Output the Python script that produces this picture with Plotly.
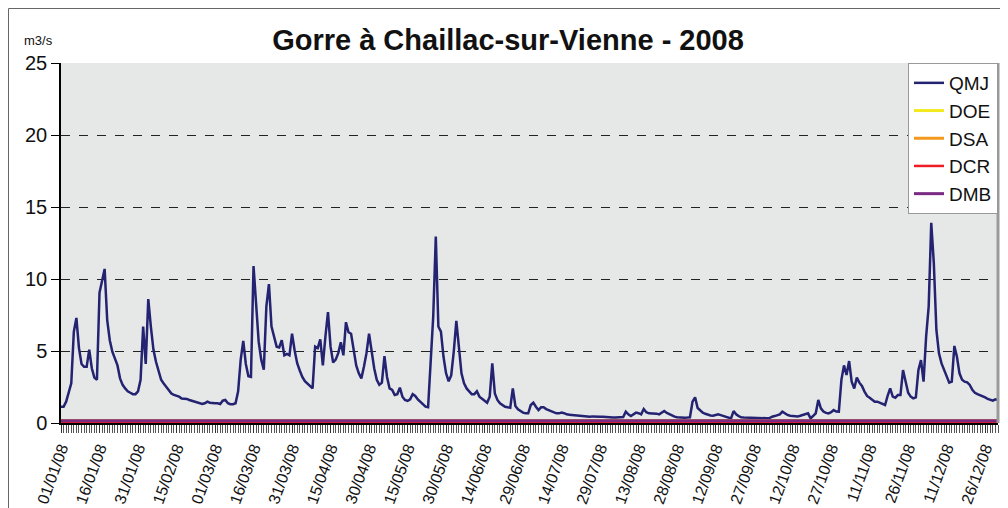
import pandas as pd
import plotly.graph_objects as go

title = "Gorre à Chaillac-sur-Vienne - 2008"
unit = "m3/s"

# Débit moyen journalier (m3/s), 01/01/2008 -> 31/12/2008
qmj = [
    1.13, 1.13, 1.48, 2.06, 2.75, 6.34, 7.3, 5.2, 4.1, 3.9,
    3.9, 5.1, 3.8, 3.15, 3.0, 9.05, 9.8, 10.7, 7.15, 5.75,
    4.95, 4.5, 4.0, 3.1, 2.65, 2.4, 2.2, 2.1, 2.0, 2.0,
    2.2, 3.0, 6.7, 4.1, 8.6, 6.7, 5.1, 4.25, 3.7, 3.0,
    2.75, 2.5, 2.3, 2.05, 1.95, 1.88, 1.83, 1.7, 1.7, 1.67,
    1.6, 1.55, 1.48, 1.41, 1.37, 1.32, 1.37, 1.48, 1.41, 1.37,
    1.37, 1.37, 1.32, 1.55, 1.6, 1.37, 1.3, 1.3, 1.37, 2.2,
    4.4, 5.7, 4.1, 3.25, 3.2, 10.9, 8.5, 5.65, 4.4, 3.7,
    8.1, 9.65, 6.7, 5.9, 5.3, 5.25, 5.75, 4.7, 4.8, 4.7,
    6.2, 5.05, 4.15, 3.65, 3.2, 2.9, 2.75, 2.55, 2.4, 5.3,
    5.2, 5.8, 4.0, 6.0, 7.7, 5.3, 4.2, 4.4, 4.85, 5.6,
    4.7, 7.0, 6.3, 6.2, 5.05, 4.0, 3.45, 3.1, 3.9, 4.85,
    6.2, 5.05, 3.8, 3.0, 2.65, 2.8, 4.65, 3.2, 2.4, 2.3,
    1.95, 2.0, 2.45, 1.83, 1.6, 1.53, 1.64, 2.0, 1.88, 1.64,
    1.46, 1.27, 1.13, 1.09, 3.9, 7.4, 12.95, 6.7, 6.35, 4.6,
    3.45, 2.9, 3.3, 4.95, 7.1, 5.05, 3.45, 2.75, 2.4, 2.2,
    2.0, 2.0, 2.2, 1.83, 1.7, 1.6, 1.41, 1.83, 4.15, 2.05,
    1.6, 1.37, 1.25, 1.13, 1.09, 1.06, 2.4, 1.18, 0.95, 0.83,
    0.72, 0.67, 0.67, 1.25, 1.41, 1.13, 0.9, 1.09, 1.09, 0.97,
    0.9, 0.79, 0.72, 0.67, 0.67, 0.72, 0.68, 0.6, 0.58, 0.56,
    0.56, 0.53, 0.52, 0.51, 0.48, 0.44, 0.44, 0.46, 0.44, 0.42,
    0.44, 0.44, 0.42, 0.39, 0.4, 0.39, 0.39, 0.4, 0.39, 0.42,
    0.79, 0.6, 0.49, 0.6, 0.72, 0.68, 0.6, 0.97, 0.75, 0.67,
    0.68, 0.67, 0.65, 0.6, 0.7, 0.83, 0.7, 0.6, 0.52, 0.44,
    0.4, 0.38, 0.37, 0.37, 0.38, 0.4, 1.48, 1.78, 1.04, 0.85,
    0.72, 0.64, 0.56, 0.52, 0.5, 0.56, 0.6, 0.55, 0.5, 0.45,
    0.38, 0.32, 0.83, 0.6, 0.48, 0.39, 0.38, 0.37, 0.36, 0.35,
    0.34, 0.33, 0.32, 0.32, 0.33, 0.33, 0.34, 0.44, 0.48, 0.52,
    0.6, 0.79, 0.65, 0.56, 0.5, 0.47, 0.44, 0.46, 0.5, 0.56,
    0.6, 0.67, 0.32, 0.5, 0.67, 1.6, 1.02, 0.8, 0.7, 0.67,
    0.75, 0.9, 0.8, 0.79, 3.0, 4.0, 3.33, 4.3, 2.87, 2.4,
    3.15, 2.8, 2.57, 2.18, 1.88, 1.76, 1.6, 1.48, 1.48, 1.41,
    1.37, 1.25, 1.88, 2.4, 1.83, 1.76, 1.94, 1.94, 3.68, 2.87,
    2.1, 1.83, 1.71, 1.78, 3.68, 4.37, 2.87, 6.0, 8.1, 13.9,
    11.1, 6.46, 4.84, 4.14, 3.68, 3.22, 2.8, 2.87, 5.35, 4.6,
    3.45, 3.0, 2.87, 2.82, 2.64, 2.3, 2.1, 2.0, 1.94, 1.83,
    1.78, 1.67, 1.6, 1.55, 1.64, 1.6,
]

# Seuils (m3/s)
doe = 0.15
dsa = 0.15
dcr = 0.05
dmb = 0.15

tick_labels = [
    "01/01/08", "16/01/08", "31/01/08", "15/02/08", "01/03/08", "16/03/08",
    "31/03/08", "15/04/08", "30/04/08", "15/05/08", "30/05/08", "14/06/08",
    "29/06/08", "14/07/08", "29/07/08", "13/08/08", "28/08/08", "12/09/08",
    "27/09/08", "12/10/08", "27/10/08", "11/11/08", "26/11/08", "11/12/08",
    "26/12/08",
]

dates = pd.date_range("2008-01-01", periods=len(qmj), freq="D")
tick_dates = pd.to_datetime(tick_labels, format="%d/%m/%y")

FONT = "Liberation Sans, Arial, sans-serif"

# page body has an 8px margin: figure is 1000x500 placed at (8, 8)
W, H = 1000, 500
L, R, T, B = 53, 10, 55, 85
PW, PH = W - L - R, H - T - B

fig = go.Figure()
fig.add_trace(go.Scatter(x=dates, y=qmj, mode="lines", name="QMJ",
                         line=dict(color="#232372", width=2.5)))
fig.add_trace(go.Scatter(x=dates, y=[doe] * len(dates), mode="lines", name="DOE",
                         line=dict(color="#F2EA1E", width=3)))
fig.add_trace(go.Scatter(x=dates, y=[dsa] * len(dates), mode="lines", name="DSA",
                         line=dict(color="#F39A1E", width=3)))
fig.add_trace(go.Scatter(x=dates, y=[dcr] * len(dates), mode="lines", name="DCR",
                         line=dict(color="#EE1C24", width=2.5)))
fig.add_trace(go.Scatter(x=dates, y=[dmb] * len(dates), mode="lines", name="DMB",
                         line=dict(color="#7A2A82", width=3)))

fig.update_layout(
    width=W, height=H, autosize=False,
    margin=dict(l=L, r=R, t=T, b=B, autoexpand=False),
    paper_bgcolor="white", plot_bgcolor="#E6E7E7",
    font=dict(family=FONT, color="#111111"),
    title=dict(text="<b>" + title + "</b>", x=0.5, xanchor="center",
               y=1 - 32 / H, yanchor="middle",
               font=dict(family=FONT, size=29, color="#111111")),
    legend=dict(x=1, xanchor="right", y=1, yanchor="top",
                bgcolor="white", bordercolor="#999999", borderwidth=1,
                font=dict(family=FONT, size=19, color="#111111"),
                tracegroupgap=0, itemwidth=30),
    showlegend=True,
)

fig.update_xaxes(
    range=[dates[0], dates[-1]], automargin=False,
    tickmode="array", tickvals=tick_dates, ticktext=tick_labels,
    tickangle=-70, tickfont=dict(family=FONT, size=16, color="#111111"),
    ticks="outside", ticklen=8, tickcolor="#333333", tickwidth=1,
    minor=dict(ticks="outside", dtick=86400000.0, ticklen=8,
               tickcolor="#555555", tickwidth=1, showgrid=False),
    showgrid=False, zeroline=False,
    showline=True, linecolor="black", linewidth=1.5,
    layer="below traces",
)
fig.update_yaxes(
    range=[0, 25], dtick=5, tick0=0, automargin=False,
    tickfont=dict(family=FONT, size=20, color="#111111"),
    ticks="outside", ticklen=8, tickcolor="black",
    showgrid=True, gridcolor="#222222", griddash="dash", gridwidth=1,
    zeroline=False, showline=True, linecolor="black", linewidth=1.5,
)

# right border of the plot area
fig.add_shape(type="line", xref="paper", yref="paper", x0=1, x1=1, y0=0, y1=1,
              line=dict(color="#9A9A9A", width=3))
# outer frame of the chart
fig.add_shape(type="rect", xref="paper", yref="paper",
              x0=(0.5 - L) / PW, x1=(W + 5 - L) / PW,
              y0=-(B + 5) / PH, y1=1 + (T - 0.5) / PH,
              line=dict(color="#666666", width=1), fillcolor="rgba(0,0,0,0)")

fig.add_annotation(text=unit, xref="paper", yref="paper",
                   x=(14 - L) / PW, xanchor="left",
                   y=1 + (T - 32) / PH, yanchor="middle",
                   showarrow=False, font=dict(family=FONT, size=13, color="#111111"))

fig.write_html("out.html")
